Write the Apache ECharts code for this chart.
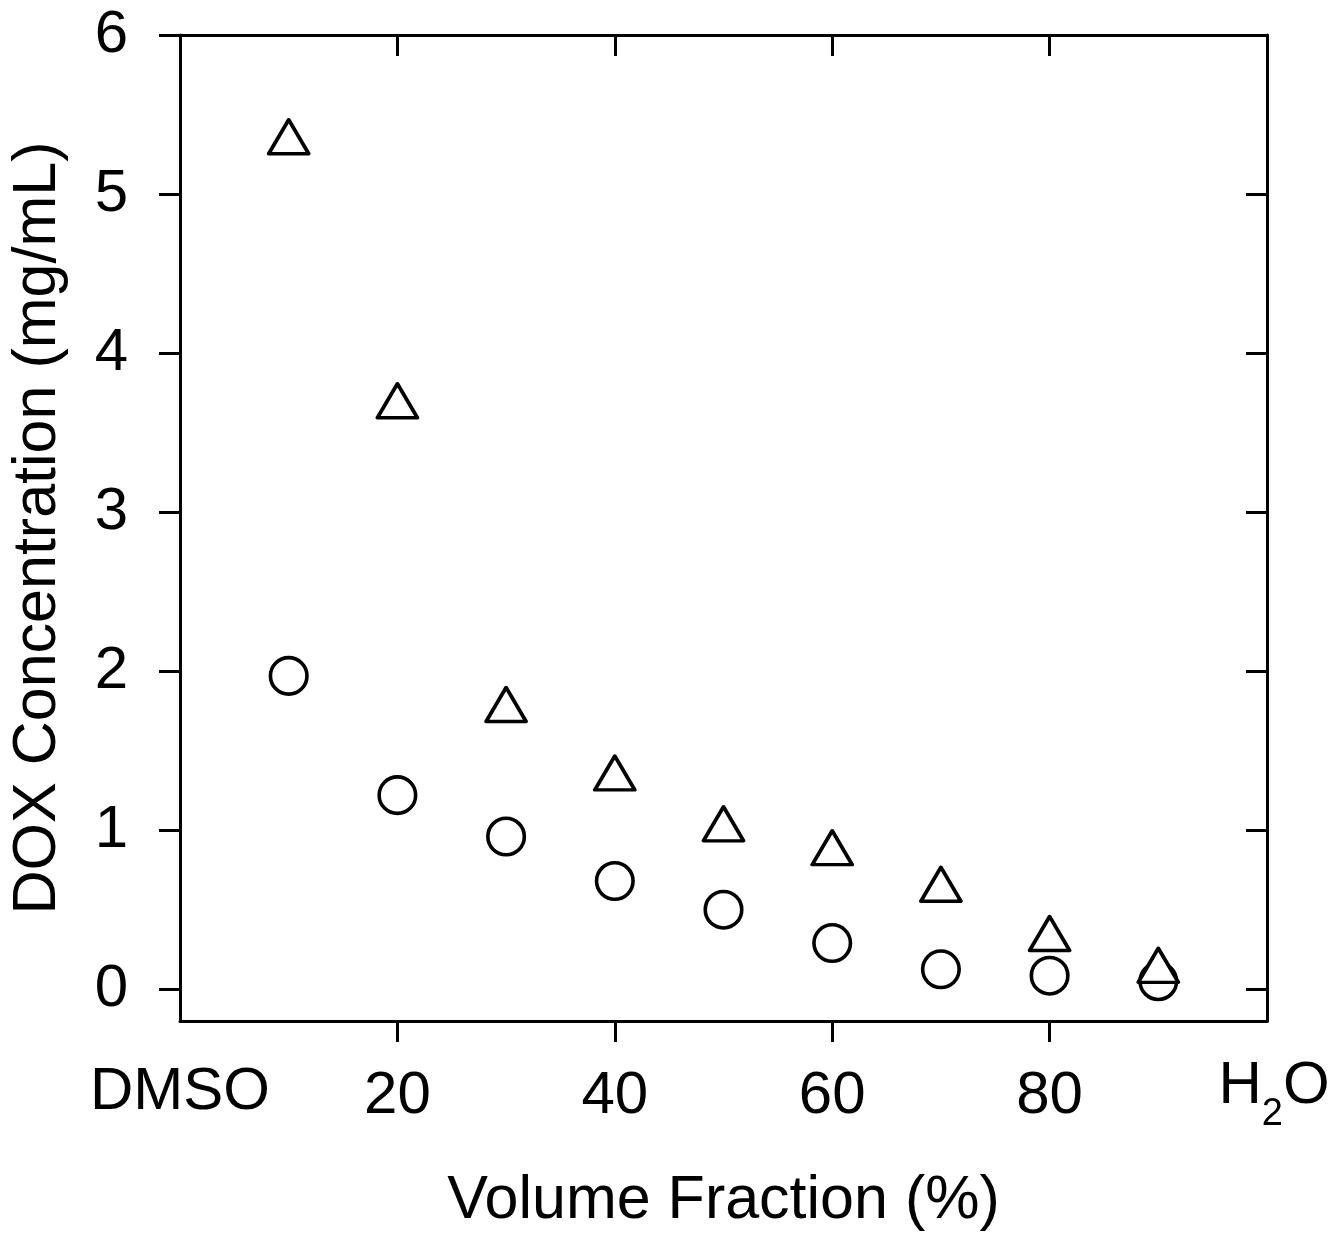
<!DOCTYPE html>
<html>
<head>
  <meta charset="utf-8">
  <title>DOX Concentration</title>
  <script src="https://cdn.jsdelivr.net/npm/echarts@6.0.0/dist/echarts.min.js"></script>
  <style>
    html, body { margin: 0; padding: 0; background: #fff; }
    #chart { width: 1333px; height: 1237px; }
  </style>
</head>
<body>
<div id="chart"></div>
<script>
  // volume fraction (%) of water
  let fractions = [10, 20, 30, 40, 50, 60, 70, 80, 90];
  // triangles
  let triangleValues = [5.36, 3.70, 1.79, 1.36, 1.04, 0.89, 0.66, 0.35, 0.15];
  // circles
  let circleValues = [1.97, 1.22, 0.96, 0.68, 0.50, 0.29, 0.125, 0.085, 0.05];
  let xTicks = [20, 40, 60, 80];
  let xLabelValues = [0, 20, 40, 60, 80, 100];
  let yTicks = [0, 1, 2, 3, 4, 5, 6];

  let font = 'Liberation Sans';
  let lineStyle = { color: '#000', width: 3 };

  let myChart = echarts.init(document.getElementById('chart'));
  let option = {
    animation: false,
    backgroundColor: '#fff',
    textStyle: { fontFamily: font, color: '#000' },
    grid: { left: 179, right: 66, top: 35, bottom: 214 },
    xAxis: [
      {
        type: 'value',
        min: 0,
        max: 100,
        name: 'Volume Fraction (%)',
        nameLocation: 'middle',
        nameGap: 150,
        nameTextStyle: { fontSize: 61, color: '#000', fontFamily: font },
        axisLine: { show: true, onZero: false, lineStyle: lineStyle },
        axisTick: { show: true, inside: false, length: 21, lineStyle: lineStyle, customValues: xTicks },
        splitLine: { show: false },
        axisLabel: {
          margin: 35,
          fontSize: 60,
          color: '#000',
          fontFamily: font,
          showMinLabel: true,
          showMaxLabel: true,
          customValues: xLabelValues,
          formatter: function (v) {
            if (v === 0) return '{d|DMSO}';
            if (v === 100) return '{h0|H}{s|2}{h|O}';
            return '{n|' + v + '}';
          },
          rich: {
            n: { fontSize: 60, lineHeight: 60, padding: [20, 0, 0, 0], fontFamily: font, color: '#000' },
            d: { fontSize: 60, lineHeight: 60, padding: [12, 0, 0, 0], fontFamily: font, color: '#000' },
            h0: { fontSize: 60, lineHeight: 60, verticalAlign: 'top', padding: [0, 0, 0, 14], fontFamily: font, color: '#000' },
            h: { fontSize: 60, lineHeight: 60, verticalAlign: 'top', fontFamily: font, color: '#000' },
            s: { fontSize: 38, lineHeight: 38, verticalAlign: 'top', padding: [40, 0, 0, 0], fontFamily: font, color: '#000' }
          }
        }
      },
      {
        type: 'value',
        position: 'top',
        min: 0,
        max: 100,
        axisLine: { show: true, onZero: false, lineStyle: lineStyle },
        axisTick: { show: true, inside: true, length: 21, lineStyle: lineStyle, customValues: xTicks },
        axisLabel: { show: false },
        splitLine: { show: false }
      }
    ],
    yAxis: [
      {
        type: 'value',
        min: -0.2,
        max: 6,
        name: 'DOX Concentration (mg/mL)',
        nameLocation: 'middle',
        nameGap: 111,
        nameTextStyle: { fontSize: 61, color: '#000', fontFamily: font },
        axisLine: { show: true, onZero: false, lineStyle: lineStyle },
        axisTick: { show: true, inside: false, length: 21, lineStyle: lineStyle, customValues: yTicks },
        splitLine: { show: false },
        axisLabel: {
          margin: 52,
          fontSize: 60,
          color: '#000',
          fontFamily: font,
          customValues: yTicks
        }
      },
      {
        type: 'value',
        position: 'right',
        min: -0.2,
        max: 6,
        axisLine: { show: true, onZero: false, lineStyle: lineStyle },
        axisTick: { show: true, inside: true, length: 21, lineStyle: lineStyle, customValues: yTicks },
        axisLabel: { show: false },
        splitLine: { show: false }
      }
    ],
    series: [
      {
        name: 'circle',
        type: 'scatter',
        symbol: 'circle',
        symbolSize: 36.5,
        itemStyle: { color: '#fff', borderColor: '#000', borderWidth: 3.6, opacity: 1 },
        data: fractions.map(function (x, i) { return [x, circleValues[i]]; })
      },
      {
        name: 'triangle',
        type: 'scatter',
        symbol: 'triangle',
        symbolSize: [40, 34],
        itemStyle: { color: '#fff', borderColor: '#000', borderWidth: 3.6, borderJoin: 'round', opacity: 1 },
        data: fractions.map(function (x, i) { return [x, triangleValues[i]]; })
      }
    ]
  };
  myChart.setOption(option);
</script>
</body>
</html>
